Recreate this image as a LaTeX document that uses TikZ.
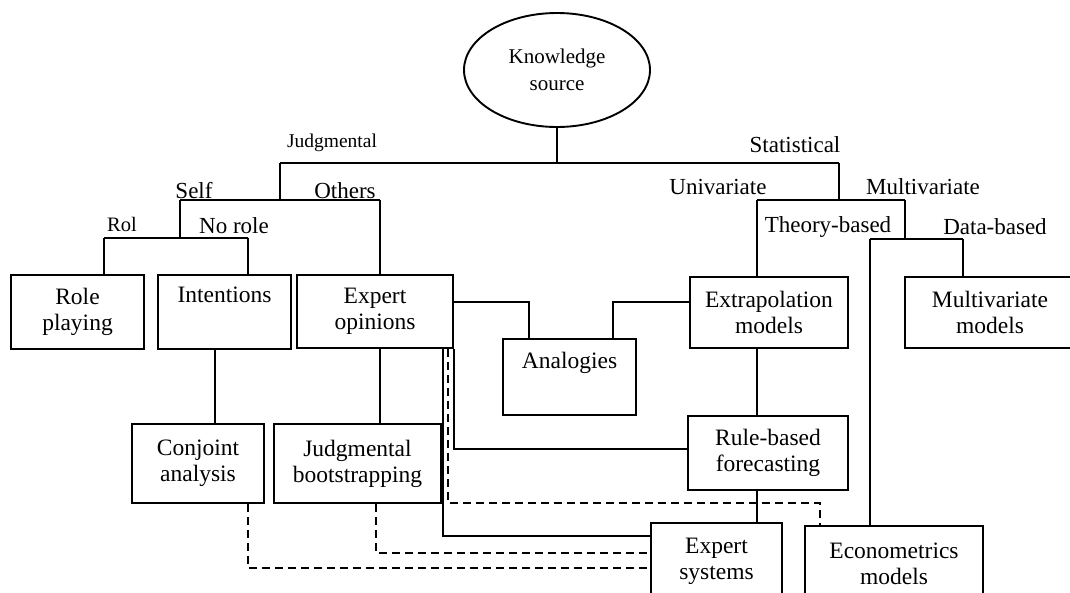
\documentclass[tikz,border=0pt]{standalone}
\usepackage{fontspec}
\setmainfont{Liberation Serif}
\usetikzlibrary{shapes.geometric}
\begin{document}
\begin{tikzpicture}[x=1pt,y=-1pt,line width=1.9pt,
  box/.style={draw,rectangle,inner sep=0pt,align=center,font=\fontsize{23.5}{26}\selectfont},
  lbl/.style={inner sep=0pt,font=\fontsize{23}{26}\selectfont},
  dsh/.style={dash pattern=on 8pt off 5pt}]
\useasboundingbox (0,0) rectangle (1070,592);
\clip (0,0) rectangle (1070,592);
\fill[white] (0,0) rectangle (1070,592);

% root
\node[draw,ellipse,minimum width=186pt,minimum height=114pt,inner sep=0pt,align=center,
  font=\fontsize{21}{27}\selectfont] (ks) at (557,70) {Knowledge\\source};

% boxes
\node[box,minimum width=133pt,minimum height=74pt] (rp) at (77.5,312) {Role\\playing};
\node[box,minimum width=133pt,minimum height=74pt] (int) at (224.5,312) {Intentions\\\strut};
\node[box,minimum width=156pt,minimum height=73pt] (eo) at (375,311.5) {Expert\\opinions};
\node[box,minimum width=133pt,minimum height=76pt] (ana) at (569.5,377) {Analogies\\\strut};
\node[box,minimum width=158pt,minimum height=71pt] (ext) at (769,312.5) {Extrapolation\\models};
\node[box,minimum width=170pt,minimum height=71pt] (mv) at (990,312.5) {Multivariate\\models};
\node[box,minimum width=132pt,minimum height=79pt] (ca) at (198,463.5) {Conjoint\\analysis};
\node[box,minimum width=167pt,minimum height=79pt] (jb) at (357.5,463.5) {Judgmental\\bootstrapping};
\node[box,minimum width=160pt,minimum height=74pt] (rb) at (768,453) {Rule-based\\forecasting};
\node[box,minimum width=131pt,minimum height=77pt] (es) at (716.5,561.5) {Expert\\systems};
\node[box,minimum width=178pt,minimum height=75pt] (em) at (894,563.5) {Econometrics\\models};

% labels
\node[lbl,font=\fontsize{19.5}{22}\selectfont] (lJ) at (332,143) {Judgmental};
\node[lbl] (lS) at (795,145) {Statistical};
\node[lbl] (lSelf) at (194,191) {Self};
\node[lbl] (lO) at (345,191) {Others};
\node[lbl,font=\fontsize{20.5}{22}\selectfont] (lR) at (122,224) {Rol};
\node[lbl] (lN) at (234,226) {No role};
\node[lbl] (lU) at (718,187) {Univariate};
\node[lbl] (lM) at (923,187) {Multivariate};
\node[lbl] (lT) at (828,227) {Theory-based};
\node[lbl] (lD) at (995,227) {Data-based};

% junction coordinates
\coordinate (a1) at (280,163); \coordinate (a2) at (839,163);
\coordinate (b1) at (180,200); \coordinate (b2) at (380,200);
\coordinate (c1) at (104,238); \coordinate (c2) at (248,238);
\coordinate (d1) at (757,200); \coordinate (d2) at (905,200);
\coordinate (e1) at (870,239); \coordinate (e2) at (963,239);
\coordinate (f1) at (529,302); \coordinate (f2) at (613,302);
\coordinate (g1) at (215,400);
\coordinate (h1) at (453,449);
\coordinate (k1) at (443,536);
\coordinate (m1) at (448,503); \coordinate (m2) at (820,503);
\coordinate (n1) at (376,553);
\coordinate (p1) at (248,568);

% tree
\draw (ks) -- (ks |- a1);
\draw (a1) -- (a2);
\draw (a1) -- (a1 |- b1);
\draw (b1) -- (b2);
\draw (b2) -- (b2 |- eo.north);
\draw (b1) -- (b1 |- c1);
\draw (c1) -- (c2);
\draw (c1) -- (c1 |- rp.north);
\draw (c2) -- (c2 |- int.north);
\draw (a2) -- (a2 |- d1);
\draw (d1) -- (d2);
\draw (d1) -- (d1 |- ext.north);
\draw (d2) -- (d2 |- e1);
\draw (e1) -- (e2);
\draw (e2) -- (e2 |- mv.north);
\draw (e1) -- (e1 |- em.north);

% cross links
\draw (eo.east |- f1) -| (f1 |- ana.north);
\draw (ext.west |- f2) -| (f2 |- ana.north);
\draw (d1 |- ext.south) -- (d1 |- rb.north);
\draw (g1 |- int.south) -- (g1 |- ca.north);
\draw (b2 |- eo.south) -- (b2 |- jb.north);
\draw (rb.west |- h1) -| (eo.south east);
\draw (d1 |- rb.south) -- (d1 |- es.north);
\draw (k1 |- eo.south) |- (es.west |- k1);

% dashed links
\draw[dsh] (m1 |- eo.south) -- (m1) -- (m2) -- (m2 |- em.north);
\draw[dsh] (n1 |- jb.south) |- (es.west |- n1);
\draw[dsh] (p1 |- ca.south) |- (es.west |- p1);
\end{tikzpicture}
\end{document}
